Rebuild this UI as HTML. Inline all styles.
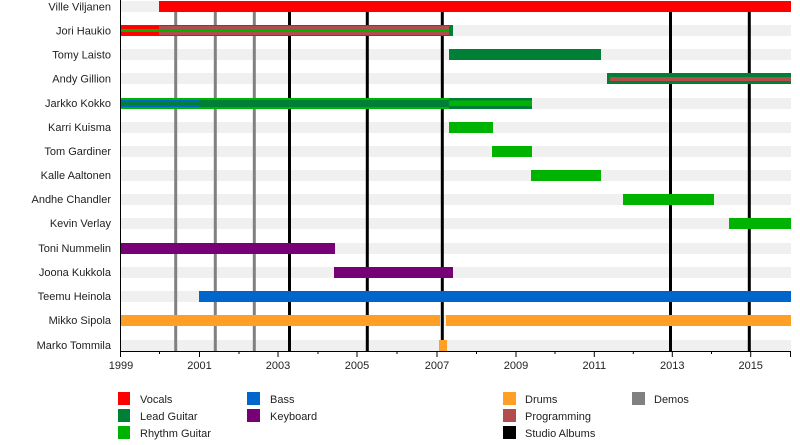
<!DOCTYPE html>
<html><head><meta charset="utf-8"><style>
body{margin:0;background:#fff;font-family:"Liberation Sans",sans-serif}
svg text{font-family:"Liberation Sans",sans-serif;font-size:11px;fill:#222}
</style></head><body>
<svg width="800" height="440" xmlns="http://www.w3.org/2000/svg">
<g fill="#f0f0f0">
<rect x="121" y="1" width="670" height="11"/><rect x="121" y="25" width="670" height="11"/><rect x="121" y="49" width="670" height="11"/><rect x="121" y="73" width="670" height="11"/><rect x="121" y="98" width="670" height="11"/><rect x="121" y="122" width="670" height="11"/><rect x="121" y="146" width="670" height="11"/><rect x="121" y="170" width="670" height="11"/><rect x="121" y="194" width="670" height="11"/><rect x="121" y="218" width="670" height="11"/><rect x="121" y="243" width="670" height="11"/><rect x="121" y="267" width="670" height="11"/><rect x="121" y="291" width="670" height="11"/><rect x="121" y="315" width="670" height="11"/><rect x="121" y="340" width="670" height="11"/>
</g>
<g stroke="#808080" stroke-width="3">
<line x1="175.7" y1="12" x2="175.7" y2="351"/><line x1="215.3" y1="12" x2="215.3" y2="351"/><line x1="254.3" y1="12" x2="254.3" y2="351"/>
</g>
<g stroke="#000" stroke-width="3">
<line x1="289.5" y1="12" x2="289.5" y2="351"/><line x1="367.3" y1="12" x2="367.3" y2="351"/><line x1="442.3" y1="12" x2="442.3" y2="351"/><line x1="670.5" y1="12" x2="670.5" y2="351"/><line x1="749.3" y1="12" x2="749.3" y2="351"/>
</g>
<!-- bars -->
<rect x="159" y="1" width="632" height="11" fill="#f00"/>
<rect x="121" y="25" width="332" height="11" fill="#007f37"/>
<rect x="121" y="26" width="38" height="9" fill="#f00"/>
<rect x="159" y="26" width="290" height="9" fill="#b34d4d"/>
<rect x="121" y="29" width="328" height="3" fill="#00b300"/>
<rect x="449" y="49" width="152" height="11" fill="#007f37"/>
<rect x="607" y="73" width="184" height="11" fill="#007f37"/>
<rect x="610" y="77" width="181" height="4" fill="#b34d4d"/>
<rect x="121" y="98" width="328" height="11" fill="#00b300"/>
<rect x="121" y="100" width="328" height="7" fill="#007f37"/>
<rect x="121" y="100" width="79" height="1.7" fill="#0066cc"/>
<rect x="121" y="105.3" width="79" height="1.7" fill="#0066cc"/>
<rect x="449" y="98" width="83" height="11" fill="#007f37"/>
<rect x="449" y="100.5" width="83" height="5.5" fill="#00b300"/>
<rect x="449" y="122" width="44" height="11" fill="#00b300"/>
<rect x="492" y="146" width="40" height="11" fill="#00b300"/>
<rect x="531" y="170" width="70" height="11" fill="#00b300"/>
<rect x="623" y="194" width="91" height="11" fill="#00b300"/>
<rect x="729" y="218" width="62" height="11" fill="#00b300"/>
<rect x="121" y="243" width="214" height="11" fill="#770077"/>
<rect x="334" y="267" width="119" height="11" fill="#770077"/>
<rect x="199" y="291" width="592" height="11" fill="#0066cc"/>
<rect x="121" y="315" width="319" height="11" fill="#ff9f25"/>
<rect x="446" y="315" width="345" height="11" fill="#ff9f25"/>
<rect x="439" y="340" width="8" height="11" fill="#ff9f25"/>
<!-- axes -->
<g stroke="#000" stroke-width="1">
<line x1="120.5" y1="0" x2="120.5" y2="352"/>
<line x1="120" y1="351.5" x2="791" y2="351.5"/>
<line x1="120.5" y1="351" x2="120.5" y2="357"/><line x1="199.5" y1="351" x2="199.5" y2="357"/><line x1="278" y1="351" x2="278" y2="357"/><line x1="357" y1="351" x2="357" y2="357"/><line x1="437" y1="351" x2="437" y2="357"/><line x1="516" y1="351" x2="516" y2="357"/><line x1="594.3" y1="351" x2="594.3" y2="357"/><line x1="672.3" y1="351" x2="672.3" y2="357"/><line x1="750.7" y1="351" x2="750.7" y2="357"/><line x1="790.5" y1="351" x2="790.5" y2="357"/>
<line x1="159.5" y1="351" x2="159.5" y2="354"/><line x1="239" y1="351" x2="239" y2="354"/><line x1="318" y1="351" x2="318" y2="354"/><line x1="397" y1="351" x2="397" y2="354"/><line x1="476.5" y1="351" x2="476.5" y2="354"/><line x1="555" y1="351" x2="555" y2="354"/><line x1="633.3" y1="351" x2="633.3" y2="354"/><line x1="711.5" y1="351" x2="711.5" y2="354"/>
</g>
<g text-anchor="middle">
<text x="121" y="369">1999</text><text x="199.5" y="369">2001</text><text x="278" y="369">2003</text><text x="357" y="369">2005</text><text x="437" y="369">2007</text><text x="516" y="369">2009</text><text x="594.3" y="369">2011</text><text x="672.3" y="369">2013</text><text x="750.7" y="369">2015</text>
</g>
<g text-anchor="end">
<text x="111" y="10.5">Ville Viljanen</text><text x="111" y="34.5">Jori Haukio</text><text x="111" y="58.5">Tomy Laisto</text><text x="111" y="82.5">Andy Gillion</text><text x="111" y="107">Jarkko Kokko</text><text x="111" y="131">Karri Kuisma</text><text x="111" y="155">Tom Gardiner</text><text x="111" y="179">Kalle Aaltonen</text><text x="111" y="203">Andhe Chandler</text><text x="111" y="227">Kevin Verlay</text><text x="111" y="252">Toni Nummelin</text><text x="111" y="276">Joona Kukkola</text><text x="111" y="300">Teemu Heinola</text><text x="111" y="324">Mikko Sipola</text><text x="111" y="349">Marko Tommila</text>
</g>
<!-- legend -->
<rect x="118" y="392" width="12" height="13" fill="#f00"/><text x="140" y="403">Vocals</text>
<rect x="118" y="409" width="12" height="13" fill="#007f37"/><text x="140" y="420">Lead Guitar</text>
<rect x="118" y="426" width="12" height="13" fill="#00b300"/><text x="140" y="437">Rhythm Guitar</text>
<rect x="247" y="392" width="13" height="13" fill="#0066cc"/><text x="270" y="403">Bass</text>
<rect x="247" y="409" width="13" height="13" fill="#770077"/><text x="270" y="420">Keyboard</text>
<rect x="503" y="392" width="13" height="13" fill="#ff9f25"/><text x="525" y="403">Drums</text>
<rect x="503" y="409" width="13" height="13" fill="#b34d4d"/><text x="525" y="420">Programming</text>
<rect x="503" y="426" width="13" height="13" fill="#000"/><text x="525" y="437">Studio Albums</text>
<rect x="632" y="392" width="13" height="13" fill="#808080"/><text x="654" y="403">Demos</text>
</svg>
</body></html>
